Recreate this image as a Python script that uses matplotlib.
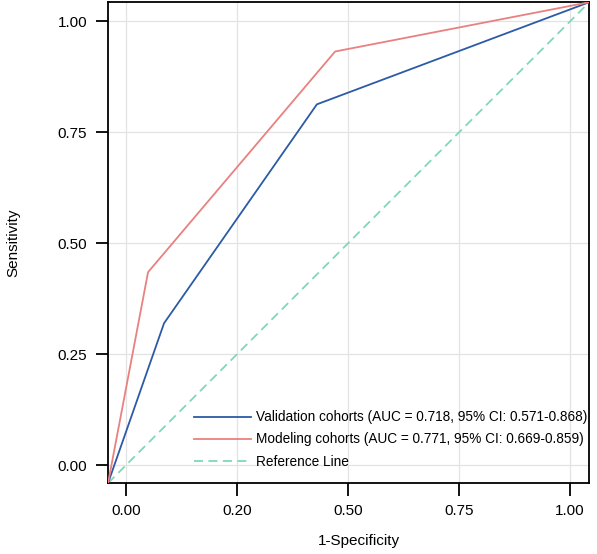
import matplotlib
matplotlib.use('Agg')
import matplotlib.pyplot as plt

# ROC points
val_fpr = [-0.04, 0.086, 0.43, 1.043]
val_tpr = [-0.04, 0.32, 0.813, 1.043]
mod_fpr = [-0.04, 0.05, 0.471, 1.043]
mod_tpr = [-0.04, 0.435, 0.932, 1.043]
ref_xy = [-0.04, 1.043]

ticks = [0.0, 0.25, 0.5, 0.75, 1.0]
xtick_labels = ['0.00', '0.20', '0.50', '0.75', '1.00']
ytick_labels = ['0.00', '0.25', '0.50', '0.75', '1.00']

val_label = 'Validation cohorts (AUC = 0.718, 95% CI: 0.571-0.868)'
mod_label = 'Modeling cohorts (AUC = 0.771, 95% CI: 0.669-0.859)'

plt.rcParams['font.family'] = ['Liberation Sans', 'DejaVu Sans']

fig = plt.figure(figsize=(5.97, 5.54), dpi=100)
ax = fig.add_axes([0.181, 0.128, 0.806, 0.868])

ax.plot(val_fpr, val_tpr, color='#2b5aa6', lw=1.3, label=val_label, zorder=3)
ax.plot(mod_fpr, mod_tpr, color='#e8817f', lw=1.3, label=mod_label, zorder=3)
ax.plot(ref_xy, ref_xy, color='#7ed9b7', lw=1.3, ls=(0, (5, 3)), label='Reference Line', zorder=2)

ax.set_xlim(-0.04, 1.043)
ax.set_ylim(-0.04, 1.043)
ax.set_xticks(ticks)
ax.set_xticklabels(xtick_labels)
ax.set_yticks(ticks)
ax.set_yticklabels(ytick_labels)
ax.grid(True, color='#e3e3e3', lw=0.9)
ax.set_axisbelow(True)
ax.tick_params(direction='out', length=9, width=1.3, labelsize=11, pad=6, colors='black')
for s in ax.spines.values():
    s.set_linewidth(1.3)

ax.set_xlabel('1-Specificity', fontsize=11)
ax.xaxis.set_label_coords(0.522, -0.106)
ax.set_ylabel('Sensitivity', fontsize=11, labelpad=27)

ax.legend(loc='lower right', bbox_to_anchor=(0.996, 0.03), frameon=False, fontsize=9.8,
          handlelength=4.2, handletextpad=0.37, labelspacing=0.6, borderaxespad=0,
          borderpad=0)

fig.savefig('out.png', dpi=100)
